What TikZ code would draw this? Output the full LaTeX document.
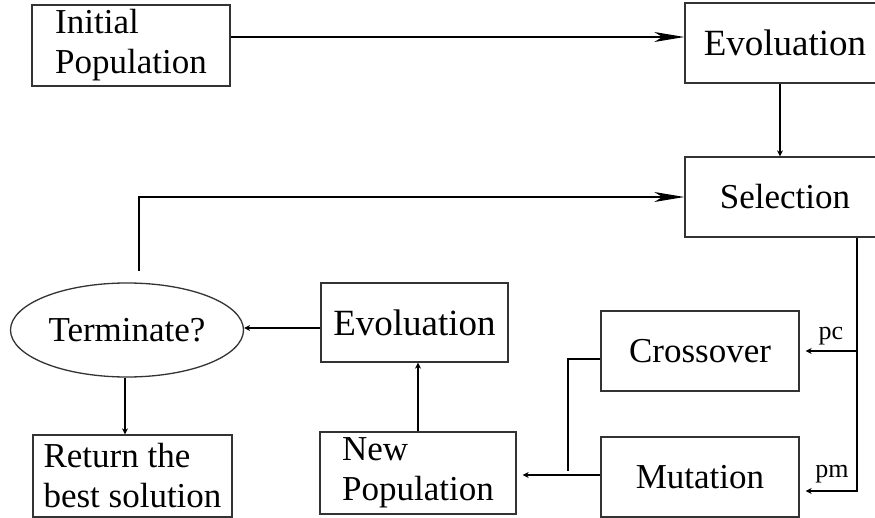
\documentclass[tikz,border=0pt]{standalone}
\usepackage{fontspec}
\setmainfont{Liberation Serif}
\usetikzlibrary{arrows.meta, positioning, shapes.geometric}

\begin{document}
\begin{tikzpicture}[x=1pt, y=-1pt, line width=1.3pt,
	box/.style={draw=black!80, rectangle, align=left, inner sep=0pt, font=\fontsize{35}{40}\selectfont},
	bigarr/.style={-{Stealth[length=30pt, width=10pt, inset=8pt]}},
	smallarr/.style={-{Stealth[length=6pt, width=6pt]}},
	prob/.style={anchor=base, font=\fontsize{26}{28}\selectfont}]

	\useasboundingbox (0,0) rectangle (875,518);

	\node[box, minimum width=198pt, minimum height=81pt] (init) at (131,45.5) {Initial\\Population};
	\node[box, minimum width=200pt, minimum height=80pt, font=\fontsize{37}{40}\selectfont] (evotop) at (785,43) {Evoluation};
	\node[box, minimum width=200pt, minimum height=80pt] (sel) at (785,197) {Selection};
	\node[box, minimum width=198pt, minimum height=80pt] (cross) at (700,351) {Crossover};
	\node[box, minimum width=198pt, minimum height=80pt] (mut) at (700,477) {Mutation};
	\node[box, minimum width=187pt, minimum height=79pt, font=\fontsize{37}{40}\selectfont] (evobot) at (414.5,322.5) {Evoluation};
	\node[box, minimum width=196pt, minimum height=82pt] (newpop) at (418,473) {New\\Population};
	\node[box, minimum width=199pt, minimum height=82pt] (ret) at (132.5,476) {Return the\\best solution};
	\node[box, ellipse, minimum width=233pt, minimum height=94pt] (term) at (127,330) {Terminate?};

	\node[prob] (pc) at (831,340) {pc};
	\node[prob] (pm) at (832,477) {pm};

	\coordinate (rs) at ([xshift=72pt]sel.south);
	\coordinate (mj) at (568,471);
	\coordinate (lp) at (139,271);

	\draw[bigarr] ([yshift=8.5pt]init.east) -- ([yshift=8.5pt]init.east -| evotop.west);
	\draw[smallarr] ([xshift=-5pt]evotop.south) -- ([xshift=-5pt]sel.north);
	\draw[smallarr] (rs) |- ([xshift=6pt, yshift=-14pt]mut.east);
	\draw[smallarr] (rs |- cross.east) -- ([xshift=6pt]cross.east);
	\draw ([yshift=-8pt]cross.west) -| (mj);
	\draw[smallarr, shorten >=6pt] ([yshift=2pt]mut.west) -- ([yshift=2pt]mut.west -| newpop.east);
	\draw[smallarr] (newpop.north) -- (newpop.north |- evobot.south);
	\draw[smallarr] ([yshift=-5.5pt]evobot.west) -- ([yshift=-5.5pt]evobot.west -| term.east);
	\draw[smallarr] ([xshift=-2pt]term.south) -- ([xshift=-2pt]term.south |- ret.north);
	\draw[bigarr] (lp) |- (sel.west);

\end{tikzpicture}
\end{document}
